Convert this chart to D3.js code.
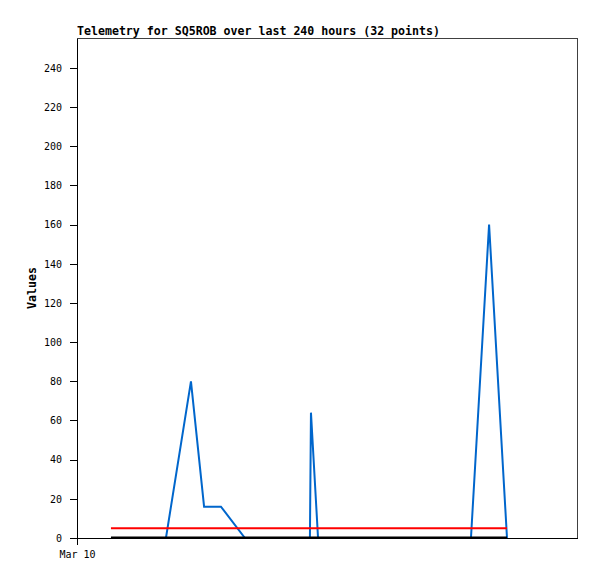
<!DOCTYPE html>
<html><head><meta charset="utf-8">
<script src="https://cdn.jsdelivr.net/npm/d3@7"></script>
<style>body{margin:0;background:#fff}svg{display:block}</style>
</head><body>
<script>
const title = "Telemetry for SQ5ROB over last 240 hours (32 points)";
const yTicks = [0,20,40,60,80,100,120,140,160,180,200,220,240];
const xTickLabels = ["Mar 10"];
const xTickHours = [0];
// hours since start of window
const blueHours = [16.3, 42.7, 54.7, 61.0, 69.1, 80.6, 111.8, 112.3, 115.7, 189.1, 197.8, 206.4];
const blueValues = [0, 0, 80, 16, 16, 0, 0, 64, 0, 0, 160, 0];
const redHours = [16.3, 206.4];
const redValues = [5, 5];
const blackHours = [16.3, 206.4];
const blackValues = [0, 0];

const W = 597, H = 579;
const m = {left:77, top:38, right:577, bottom:538};
const svg = d3.select("body").append("svg").attr("width",W).attr("height",H);
const x = d3.scaleLinear().domain([0,240]).range([m.left,m.right]);
const y = d3.scaleLinear().domain([0,255.3]).range([m.bottom,m.top]);
const mono = "'DejaVu Sans Mono', monospace";

// frame top/right
svg.append("path").attr("d",`M${m.left},${m.top}H${m.right}V${m.bottom}`)
  .attr("fill","none").attr("stroke","#404040").attr("stroke-width",1).attr("shape-rendering","crispEdges");

const line = d3.line().x(d=>x(d[0])).y(d=>y(d[1]));
svg.append("path").datum(blueHours.map((h,i)=>[h,blueValues[i]]))
  .attr("d",line).attr("fill","none").attr("stroke","#0066cc").attr("stroke-width",2);
svg.append("path").datum(redHours.map((h,i)=>[h,redValues[i]]))
  .attr("d",line).attr("fill","none").attr("stroke","#ff0000").attr("stroke-width",2);
svg.append("path").datum(blackHours.map((h,i)=>[h,blackValues[i]]))
  .attr("d",line).attr("fill","none").attr("stroke","#000").attr("stroke-width",2).attr("transform","translate(0,-0.5)");

// y axis
const ya = svg.append("g").attr("transform",`translate(${m.left},0)`)
  .call(d3.axisLeft(y).tickValues(yTicks).tickSize(7).tickPadding(8).tickSizeOuter(0));
ya.select(".domain").attr("stroke","#000").attr("shape-rendering","crispEdges");
ya.selectAll(".tick line").attr("stroke","#000").attr("shape-rendering","crispEdges");
ya.selectAll("text").attr("font-family",mono).attr("font-size","10px").attr("fill","#000");

// x axis
const xa = svg.append("g").attr("transform",`translate(0,${m.bottom})`)
  .call(d3.axisBottom(x).tickValues(xTickHours).tickFormat((d,i)=>xTickLabels[i]).tickSize(7).tickPadding(6).tickSizeOuter(0));
xa.select(".domain").attr("stroke","#000").attr("shape-rendering","crispEdges");
xa.selectAll(".tick line").attr("stroke","#000").attr("shape-rendering","crispEdges");
xa.selectAll("text").attr("font-family",mono).attr("font-size","10px").attr("fill","#000");

svg.append("text").attr("x",m.left).attr("y",35).text(title)
  .attr("font-family",mono).attr("font-weight","bold").attr("font-size","11.6px").attr("fill","#000");

svg.append("text").attr("transform",`translate(36,${(m.top+m.bottom)/2}) rotate(-90)`)
  .attr("text-anchor","middle").text("Values")
  .attr("font-family",mono).attr("font-weight","bold").attr("font-size","11.6px").attr("fill","#000");
</script>
</body></html>
